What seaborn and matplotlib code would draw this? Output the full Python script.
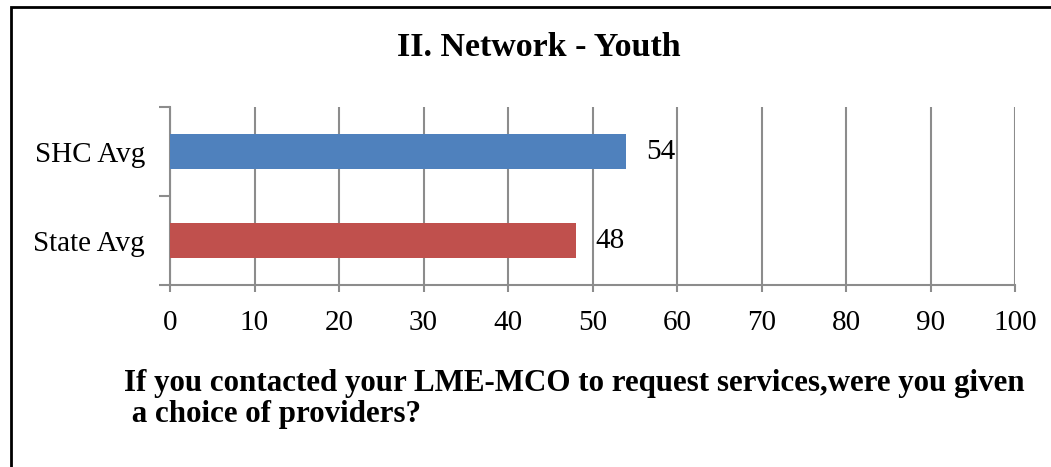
import matplotlib
matplotlib.use("Agg")
import matplotlib.pyplot as plt
import matplotlib.patches as mpatches
import seaborn as sns
import pandas as pd

# Survey results
categories = ["SHC Avg", "State Avg"]
values = [54, 48]
bar_colors = ["#4F81BD", "#C0504D"]
x_ticks = [0, 10, 20, 30, 40, 50, 60, 70, 80, 90, 100]
title = "II. Network - Youth"
question = "If you contacted your LME-MCO to request services,were you given\n a choice of providers?"

sns.set_theme(style="white")
plt.rcParams["font.family"] = ["Liberation Serif", "DejaVu Serif"]
plt.rcParams["text.color"] = "black"
plt.rcParams["xtick.labelcolor"] = "black"
plt.rcParams["ytick.labelcolor"] = "black"

W, H = 1051, 467
fig = plt.figure(figsize=(W / 100, H / 100), dpi=100)
ax = fig.add_axes([170 / W, 1 - 285 / H, (1015 - 170) / W, (285 - 107) / H])

df = pd.DataFrame({"category": categories, "value": values})
sns.barplot(data=df, x="value", y="category", hue="category",
            palette=dict(zip(categories, bar_colors)), width=0.4,
            saturation=1, linewidth=0, orient="h", legend=False,
            ax=ax, zorder=3)

grid_color = "#8C8C8C"
tick_size = 21
ax.set_xlim(0, 100)
ax.set_ylim(len(categories) - 0.5, -0.5)
ax.set_xticks(x_ticks)
ax.set_xticklabels([str(t) for t in x_ticks], fontsize=tick_size)
ax.set_xlabel("")
ax.set_ylabel("")

# category labels centred between boundary ticks
ax.set_yticks([-0.5, 0.5, 1.5])
ax.set_yticklabels([])
ax.set_yticks(range(len(categories)), minor=True)
ax.set_yticklabels(categories, minor=True, fontsize=tick_size)
ax.tick_params(axis="y", which="minor", length=0, pad=18)
ax.tick_params(axis="y", which="major", length=8, width=1.5, color=grid_color, left=True)
ax.tick_params(axis="x", length=5, width=1.5, color=grid_color, bottom=True, pad=13)

ax.xaxis.grid(True, color=grid_color, linewidth=1.5, zorder=0)
ax.set_axisbelow(True)
for side in ["top", "right"]:
    ax.spines[side].set_visible(False)
for side in ["left", "bottom"]:
    ax.spines[side].set_color(grid_color)
    ax.spines[side].set_linewidth(1.5)

# value labels
for i, v in enumerate(values):
    ax.annotate(str(v), xy=(v, i), xytext=(14, 0), textcoords="offset points",
                va="center", ha="left", fontsize=tick_size, color="black")

fig.text(539 / W, 1 - 47 / H, title, ha="center", va="center",
         fontsize=24.5, fontweight="bold", color="black")
fig.text(124 / W, 1 - 399 / H, question, ha="left", va="center",
         fontsize=22.3, fontweight="bold", linespacing=1.13, color="black")

# outer frame
fig.patches.append(mpatches.Rectangle((11 / W, -0.2), 1.2, 1 - 7 / H + 0.2,
                                      transform=fig.transFigure, fill=False,
                                      edgecolor="black", linewidth=2))

fig.savefig("out.png", dpi=100)
